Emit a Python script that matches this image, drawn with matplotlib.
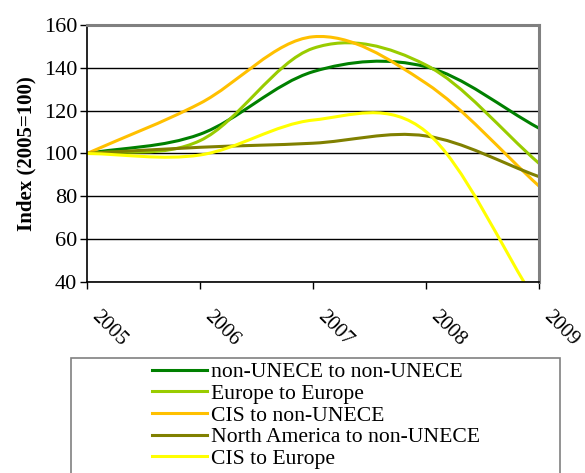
import matplotlib
matplotlib.use("Agg")
import matplotlib.pyplot as plt
from matplotlib.path import Path
from matplotlib.patches import PathPatch, Rectangle
from matplotlib.lines import Line2D
import matplotlib.transforms as mtransforms

plt.rcParams['font.family'] = ['Liberation Serif', 'DejaVu Serif']

years = [2005, 2006, 2007, 2008, 2009]
tick_labels = ['2005', '2006', '2007', '2008', '2009']

non_unece = [100, 109.0, 138.2, 140.5, 111.8]
europe = [100, 106.0, 149.1, 141.3, 95.4]
cis_non_unece = [100, 123.4, 154.5, 132.8, 84.8]
north_america = [100, 102.9, 104.8, 108.2, 89.2]
cis_europe = [100, 99.3, 115.6, 110.2, 28.5]

series = [
    ("non-UNECE to non-UNECE", non_unece, "#008000"),
    ("Europe to Europe", europe, "#99CC00"),
    ("CIS to non-UNECE", cis_non_unece, "#FFC000"),
    ("North America to non-UNECE", north_america, "#808000"),
    ("CIS to Europe", cis_europe, "#FFFF00"),
]

W, H = 585, 473
fig = plt.figure(figsize=(W / 100, H / 100), dpi=100)
ax = fig.add_axes([87 / W, 1 - 282 / H, (539 - 87) / W, (282 - 25) / H])


def smooth_path(xs, ys):
    """Smoothed line (Excel style) as cubic Bezier segments through the data points."""
    pts = list(zip(xs, ys))
    n = len(pts)
    first = (2 * pts[0][0] - pts[1][0], 2 * pts[0][1] - pts[1][1])
    last = (2 * pts[-1][0] - pts[-2][0], 2 * pts[-1][1] - pts[-2][1])
    ext = [first] + pts + [last]
    verts = [pts[0]]
    codes = [Path.MOVETO]
    for i in range(1, n):
        p0, p1, p2, p3 = ext[i - 1], ext[i], ext[i + 1], ext[i + 2]
        c1 = (p1[0] + (p2[0] - p0[0]) / 6, p1[1] + (p2[1] - p0[1]) / 6)
        c2 = (p2[0] - (p3[0] - p1[0]) / 6, p2[1] - (p3[1] - p1[1]) / 6)
        verts += [c1, c2, p2]
        codes += [Path.CURVE4] * 3
    return Path(verts, codes)


lw = 2.2
for name, vals, col in series:
    patch = PathPatch(smooth_path(years, vals), facecolor='none', edgecolor=col,
                      lw=lw, transform=ax.transData, capstyle='butt', joinstyle='round')
    ax.add_patch(patch)
    patch.set_clip_path(ax.patch)

ax.set_xlim(2005, 2009)
ax.set_ylim(40, 160)
ax.set_yticks([40, 60, 80, 100, 120, 140, 160])
ax.set_xticks(years)
ax.set_xticklabels(tick_labels, rotation=-45, ha='left', va='top', rotation_mode='anchor')
ax.tick_params(axis='x', length=5, width=1, pad=13, labelsize=15, color='black')
ax.tick_params(axis='y', length=5, width=1, pad=2, labelsize=16, color='black')
offset = mtransforms.ScaledTranslation(14 / 100, 0, fig.dpi_scale_trans)
for lab in ax.get_xticklabels():
    lab.set_transform(lab.get_transform() + offset)

ax.grid(axis='y', color='#000000', lw=1)
ax.set_axisbelow(True)
for s in ['top', 'right']:
    ax.spines[s].set_color('#808080')
    ax.spines[s].set_linewidth(2.2)
for s in ['left', 'bottom']:
    ax.spines[s].set_color('black')
    ax.spines[s].set_linewidth(1.2)

ax.set_ylabel('Index (2005=100)', fontsize=15, fontweight='bold', labelpad=5)

# legend frame
fig.patches.append(Rectangle((71 / W, 1 - 480 / H), (560 - 71) / W, (480 - 358) / H,
                             transform=fig.transFigure, facecolor='white',
                             edgecolor='#808080', lw=1.2))
handles = [Line2D([], [], color=c, lw=lw) for _, _, c in series]
labels = [n for n, _, _ in series]
fig.legend(handles, labels, loc='upper center', bbox_to_anchor=(316 / W, 1 - 349 / H),
           frameon=False, fontsize=15.6, handlelength=2.55, handletextpad=0.2,
           labelspacing=0.07, borderpad=0.1)

fig.savefig('out.png', dpi=100)
